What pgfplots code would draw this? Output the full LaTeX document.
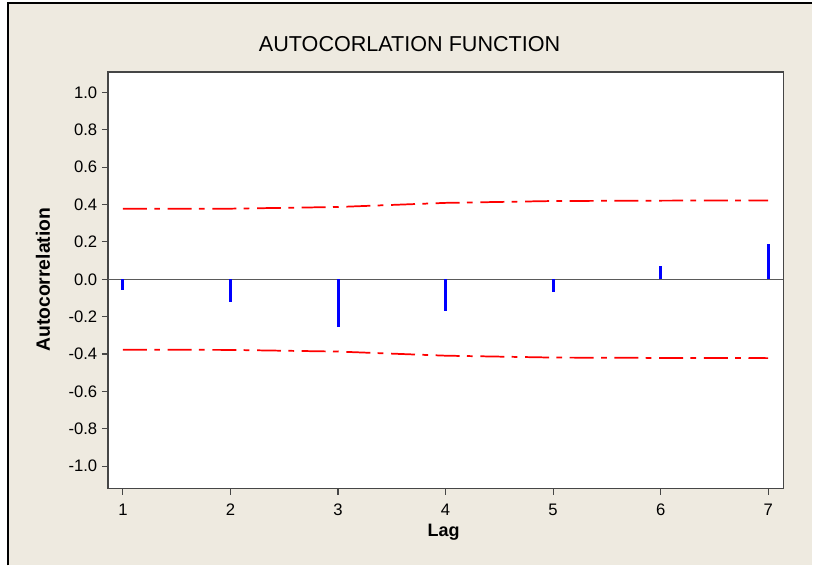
\documentclass[border=0pt]{standalone}
\usepackage{pgfplots}
\pgfplotsset{compat=1.18}
\usepackage{fontspec}
\setmainfont{Liberation Sans}
\definecolor{bgbeige}{RGB}{238,234,224}
\definecolor{framegray}{RGB}{70,70,70}
\definecolor{zerogray}{RGB}{90,90,90}
\begin{document}
\begin{tikzpicture}
\fill[white] (0pt,0pt) rectangle (609.75pt,424.5pt);
\fill[bgbeige] (6pt,0pt) rectangle (609.75pt,422.25pt);
\draw[black, line width=1.2pt] (6pt,0pt) -- (6pt,422.25pt) -- (609.75pt,422.25pt);
\begin{axis}[
  at={(81pt,57.75pt)}, anchor=south west,
  scale only axis, width=507pt, height=312.75pt,
  xmin=0.86, xmax=7.14, ymin=-1.12, ymax=1.11,
  axis background/.style={fill=white},
  axis line style={framegray, line width=1.1pt},
  xtick={1,2,3,4,5,6,7},
  ytick={-1,-0.8,-0.6,-0.4,-0.2,0,0.2,0.4,0.6,0.8,1},
  tick align=outside, xtick pos=bottom, ytick pos=left,
  major tick length=4.5pt,
  tick style={framegray, line width=0.8pt},
  /pgf/number format/assume math mode=true,
  yticklabel={\pgfmathprintnumber[fixed,fixed zerofill,precision=1]{\tick}},
  ticklabel style={font=\fontsize{12.5}{14}\selectfont, text=black},
  xticklabel style={yshift=-3.5pt},
  clip=false,
]
\addplot[zerogray, line width=1.1pt] coordinates {(0.86,0) (7.14,0)};
\addplot[red, line width=1.3pt, dash pattern=on 18pt off 5.5pt on 4.3pt off 5.75pt]
  coordinates {(1,0.377) (2,0.378) (3,0.387) (4,0.409) (5,0.419) (6,0.421) (7,0.422)};
\addplot[red, line width=1.3pt, dash pattern=on 18pt off 5.5pt on 4.3pt off 5.75pt]
  coordinates {(1,-0.377) (2,-0.378) (3,-0.387) (4,-0.409) (5,-0.419) (6,-0.421) (7,-0.422)};
\addplot[ycomb, blue, line width=2.25pt, mark=none]
  coordinates {(1,-0.059) (2,-0.123) (3,-0.256) (4,-0.170) (5,-0.068) (6,0.071) (7,0.191)};
\end{axis}
\node[font=\fontsize{16.2}{19}\selectfont] at (307.5pt,391.5pt) {AUTOCORLATION FUNCTION};
\node[font=\fontsize{14.5}{17}\selectfont\bfseries, rotate=90] at (32.25pt,214.5pt) {Autocorrelation};
\node[font=\fontsize{13.5}{16}\selectfont\bfseries] at (333pt,24.75pt) {Lag};
\end{tikzpicture}
\end{document}
